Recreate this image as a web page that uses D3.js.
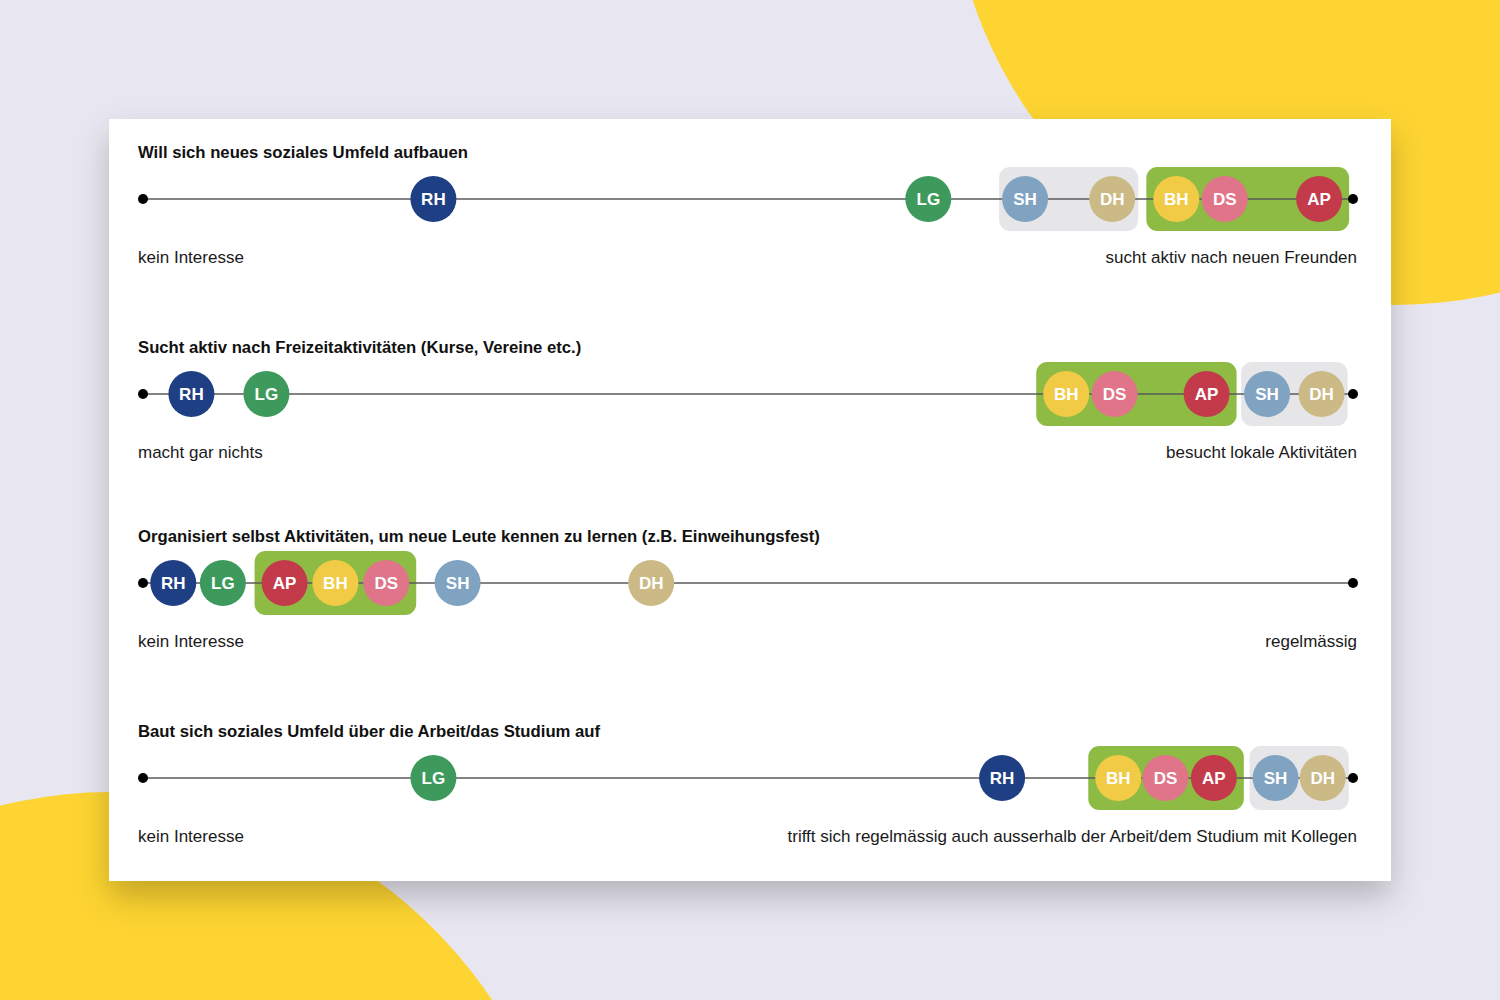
<!DOCTYPE html>
<html>
<head>
<meta charset="utf-8">
<script src="https://cdn.jsdelivr.net/npm/d3@7"></script>
<style>
  html, body { margin: 0; padding: 0; background: #e8e7f1; }
  svg { display: block; font-family: "Liberation Sans", Arial, Helvetica, sans-serif; }
</style>
</head>
<body>
<div id="container"></div>
<script>
// Questions (one row each) and their scale endpoints
const questions = [
  'Will sich neues soziales Umfeld aufbauen',
  'Sucht aktiv nach Freizeitaktivitäten (Kurse, Vereine etc.)',
  'Organisiert selbst Aktivitäten, um neue Leute kennen zu lernen (z.B. Einweihungsfest)',
  'Baut sich soziales Umfeld über die Arbeit/das Studium auf'
];
const leftLabels = ['kein Interesse', 'macht gar nichts', 'kein Interesse', 'kein Interesse'];
const rightLabels = [
  'sucht aktiv nach neuen Freunden',
  'besucht lokale Aktivitäten',
  'regelmässig',
  'trifft sich regelmässig auch ausserhalb der Arbeit/dem Studium mit Kollegen'
];

// Personas and their position on each scale (0 = left, 100 = right)
const personas = ['RH', 'LG', 'SH', 'DH', 'BH', 'DS', 'AP'];
const scoresRH = [24.0, 4.0, 2.5, 71.0];
const scoresLG = [64.9, 10.2, 6.6, 24.0];
const scoresSH = [72.9, 92.9, 26.0, 93.6];
const scoresDH = [80.1, 97.4, 42.0, 97.5];
const scoresBH = [85.4, 76.3, 15.9, 80.6];
const scoresDS = [89.4, 80.3, 20.1, 84.5];
const scoresAP = [97.2, 87.9, 11.7, 88.5];

// Persona clusters, and the rows where they are boxed
const greenGroup = ['BH', 'DS', 'AP'];
const greyGroup = ['SH', 'DH'];
const greenBoxRows = [0, 1, 2, 3];
const greyBoxRows = [0, 1, 3];

const scores = {
  RH: scoresRH, LG: scoresLG, SH: scoresSH, DH: scoresDH,
  BH: scoresBH, DS: scoresDS, AP: scoresAP
};

const colors = {
  RH: '#1f3f84', LG: '#3e9a5c', SH: '#7fa3c1', DH: '#cbba86',
  BH: '#f1cb46', DS: '#e07488', AP: '#c33b4b'
};

const width = 1500;
const height = 1000;
const card = { x: 109, y: 119, w: 1282, h: 762 };
const rowY = [199, 394, 583, 778];
const r = 23;
const boxHalf = 32;

const svg = d3
  .select('#container')
  .append('svg')
  .attr('width', width)
  .attr('height', height);

// background + blobs
svg.append('rect').attr('width', width).attr('height', height).attr('fill', '#e8e7f1');
svg.append('circle').attr('cx', 1395).attr('cy', -140).attr('r', 445).attr('fill', '#fdd431');
svg.append('ellipse').attr('cx', 110).attr('cy', 1290).attr('rx', 470).attr('ry', 498).attr('fill', '#fdd431');

const defs = svg.append('defs');
const shadow = defs.append('filter').attr('id', 'shadow')
  .attr('x', '-10%').attr('y', '-10%').attr('width', '120%').attr('height', '130%');
shadow.append('feDropShadow')
  .attr('dx', 0).attr('dy', 16).attr('stdDeviation', 16)
  .attr('flood-color', '#000').attr('flood-opacity', 0.22);

svg.append('rect')
  .attr('x', card.x).attr('y', card.y)
  .attr('width', card.w).attr('height', card.h)
  .attr('fill', '#fff')
  .attr('filter', 'url(#shadow)');

// scales
const x = d3.scaleLinear().domain([0, 100]).range([143, 1353]);

const rows = svg.selectAll('g.row')
  .data(questions)
  .enter()
  .append('g')
  .attr('class', 'row')
  .attr('transform', (d, i) => `translate(0, ${rowY[i]})`);

// cluster boxes
const drawBox = (sel, group, boxRows, fill, pad) => {
  sel.filter((d, i) => boxRows.includes(i))
    .append('rect')
    .attr('x', d => {
      const row = questions.indexOf(d);
      return x(d3.min(group, p => scores[p][row])) - pad;
    })
    .attr('width', d => {
      const row = questions.indexOf(d);
      return x(d3.max(group, p => scores[p][row])) - x(d3.min(group, p => scores[p][row])) + pad * 2;
    })
    .attr('y', -boxHalf)
    .attr('height', boxHalf * 2)
    .attr('rx', 11)
    .attr('fill', fill);
};
drawBox(rows, greyGroup, greyBoxRows, '#e6e6e8', 26);
drawBox(rows, greenGroup, greenBoxRows, '#8dbb44', 30);

// axis line + end points
rows.append('line')
  .attr('x1', x(0)).attr('x2', x(100))
  .attr('stroke', '#5a5a5a')
  .attr('stroke-width', 1.6);

rows.selectAll('circle.end')
  .data([0, 100])
  .enter()
  .append('circle')
  .attr('class', 'end')
  .attr('cx', d => x(d))
  .attr('r', 5)
  .attr('fill', '#000');

// titles and end labels
rows.append('text')
  .attr('x', 138).attr('y', -41)
  .attr('font-size', 16.7).attr('font-weight', 'bold').attr('fill', '#111')
  .text(d => d);

rows.append('text')
  .attr('x', 138).attr('y', 64)
  .attr('font-size', 17).attr('fill', '#1a1a1a')
  .text((d, i) => leftLabels[i]);

rows.append('text')
  .attr('x', 1357).attr('y', 64)
  .attr('text-anchor', 'end')
  .attr('font-size', 17).attr('fill', '#1a1a1a')
  .text((d, i) => rightLabels[i]);

// persona bubbles
const bubbles = rows.selectAll('g.persona')
  .data((d, i) => personas.map(p => ({ p, v: scores[p][i] })))
  .enter()
  .append('g')
  .attr('class', 'persona')
  .attr('transform', d => `translate(${x(d.v)}, 0)`);

bubbles.append('circle')
  .attr('r', r)
  .attr('fill', d => colors[d.p]);

bubbles.append('text')
  .attr('text-anchor', 'middle')
  .attr('dy', '0.36em')
  .attr('font-size', 17)
  .attr('font-weight', 'bold')
  .attr('fill', '#fff')
  .text(d => d.p);
</script>
</body>
</html>
